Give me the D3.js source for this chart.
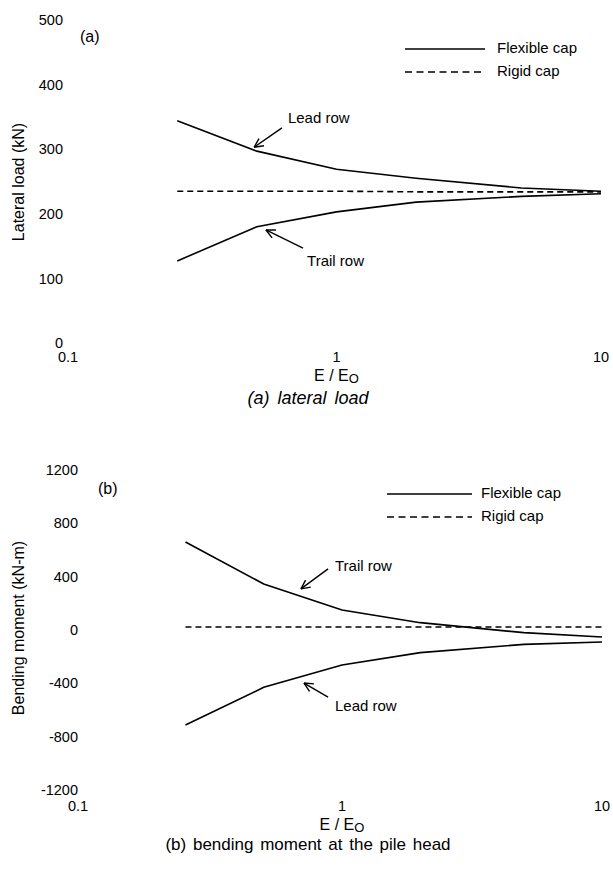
<html>
<head>
<meta charset="utf-8">
<script src="https://cdnjs.cloudflare.com/ajax/libs/d3/7.8.5/d3.min.js"></script>
<style>
  * { margin: 0; padding: 0; }
  body { background: #fff; }
  svg text { font-family: "Liberation Sans", Arial, sans-serif; fill: #000; }
</style>
</head>
<body>
<svg id="viz" width="613" height="880"></svg>
<script>
// E / Eo values where the curves were computed
const ratio = [0.25, 0.5, 1, 2, 5, 10];

// (a) lateral load, kN
const loadLead  = [344, 297, 269, 255, 240, 235];
const loadTrail = [127, 180, 203, 218, 227, 231];
const loadRigid = [235, 235, 235, 234, 234, 234];

// (b) bending moment at pile head, kN-m
const momentTrail = [660, 345, 150, 55, -20, -52];
const momentLead  = [-713, -430, -262, -170, -108, -90];
const momentRigid = [22, 22, 22, 22, 22, 22];

const xTicks = [0.1, 1, 10];
const loadTicks = [0, 100, 200, 300, 400, 500];
const momentTicks = [-1200, -800, -400, 0, 400, 800, 1200];

// annotations: [label, labelE, labelV, fromE, fromV, tipE, tipV]
const loadNotes = [
  ["Lead row", 0.655, 347, 0.622, 333, 0.488, 303],
  ["Trail row", 0.774, 125, 0.747, 147, 0.541, 175]
];
const momentNotes = [
  ["Trail row", 0.94, 473, 0.884, 458, 0.695, 308],
  ["Lead row", 0.94, -578, 0.884, -503, 0.714, -398]
];

const svg = d3.select("#viz");

function panel(opt) {
  const g = svg.append("g");
  const x = d3.scaleLog().domain([0.1, 10]).range(opt.xr);
  const y = d3.scaleLinear().domain(opt.yd).range(opt.yr);

  // y tick labels (no axis line in the original)
  const ya = g.append("g")
    .attr("transform", "translate(" + opt.yLabelX + ",0)")
    .call(d3.axisLeft(y).tickValues(opt.yTicks).tickSize(0).tickPadding(0).tickFormat(d => String(d)));
  ya.select(".domain").remove();
  ya.selectAll("text").style("font-size", "14.5px").attr("font-family", null);

  // x tick labels
  g.selectAll(".xt").data(xTicks).enter().append("text")
    .attr("x", d => x(d) + (d == 0.1 ? -4 : 0))
    .attr("y", opt.xLabelY)
    .attr("text-anchor", "middle")
    .attr("dominant-baseline", "middle")
    .style("font-size", "14.5px")
    .text(d => d);

  // x title E / Eo
  const xt = g.append("text")
    .attr("x", x(1))
    .attr("y", opt.xLabelY + 19)
    .attr("text-anchor", "middle")
    .attr("dominant-baseline", "middle")
    .style("font-size", "16px");
  xt.append("tspan").text("E / E");
  xt.append("tspan").attr("dy", 3).style("font-size", "13px").text("O");

  // y title
  g.append("text")
    .attr("transform", "translate(20," + opt.yTitleY + ") rotate(-90)")
    .attr("text-anchor", "middle")
    .attr("dominant-baseline", "middle")
    .style("font-size", "16px")
    .text(opt.yTitle);

  // panel tag
  g.append("text")
    .attr("x", opt.tag[0]).attr("y", opt.tag[1])
    .attr("dominant-baseline", "middle")
    .style("font-size", "16px")
    .text(opt.tag[2]);

  const line = d3.line().x((d, i) => x(ratio[i])).y(d => y(d));

  opt.flex.forEach(s => {
    g.append("path").attr("d", line(s))
      .attr("fill", "none").attr("stroke", "#000").attr("stroke-width", 1.6);
  });
  g.append("path").attr("d", line(opt.rigid))
    .attr("fill", "none").attr("stroke", "#000").attr("stroke-width", 1.6)
    .attr("stroke-dasharray", "6,4");

  // legend
  const lg = g.append("g");
  lg.append("line").attr("x1", opt.leg[0]).attr("x2", opt.leg[1])
    .attr("y1", opt.leg[3]).attr("y2", opt.leg[3])
    .attr("stroke", "#000").attr("stroke-width", 1.4);
  lg.append("line").attr("x1", opt.leg[0]).attr("x2", opt.leg[1])
    .attr("y1", opt.leg[3] + 23).attr("y2", opt.leg[3] + 23)
    .attr("stroke", "#000").attr("stroke-width", 1.4).attr("stroke-dasharray", "7,4.5");
  lg.append("text").attr("x", opt.leg[2]).attr("y", opt.leg[3])
    .attr("dominant-baseline", "middle").style("font-size", "15px").text("Flexible cap");
  lg.append("text").attr("x", opt.leg[2]).attr("y", opt.leg[3] + 23)
    .attr("dominant-baseline", "middle").style("font-size", "15px").text("Rigid cap");

  // annotations with open arrowheads
  opt.notes.forEach(n => {
    g.append("text").attr("x", x(n[1])).attr("y", y(n[2]))
      .attr("dominant-baseline", "middle").style("font-size", "15px").text(n[0]);
    const x0 = x(n[3]), y0 = y(n[4]), x1 = x(n[5]), y1 = y(n[6]);
    g.append("line").attr("x1", x0).attr("y1", y0).attr("x2", x1).attr("y2", y1)
      .attr("stroke", "#000").attr("stroke-width", 1.4);
    const a = Math.atan2(y0 - y1, x0 - x1), L = 10;
    [-0.45, 0.45].forEach(da => {
      g.append("line").attr("x1", x1).attr("y1", y1)
        .attr("x2", x1 + L * Math.cos(a + da)).attr("y2", y1 + L * Math.sin(a + da))
        .attr("stroke", "#000").attr("stroke-width", 1.4);
    });
  });

  // caption
  g.append("text")
    .attr("x", 308).attr("y", opt.capY)
    .attr("text-anchor", "middle").attr("dominant-baseline", "middle")
    .style("font-size", opt.capSize)
    .style("font-style", opt.capItalic ? "italic" : "normal")
    .style("word-spacing", opt.capSpacing)
    .text(opt.caption);
}

panel({
  xr: [72, 601], yd: [0, 500], yr: [343, 20], yTicks: loadTicks, yLabelX: 63,
  xLabelY: 358, yTitle: "Lateral load (kN)", yTitleY: 182, tag: [80, 38, "(a)"],
  flex: [loadLead, loadTrail], rigid: loadRigid, leg: [405, 485, 497, 49],
  notes: loadNotes, caption: "(a) lateral load", capY: 399, capItalic: true,
  capSize: "18px", capSpacing: "3px"
});

panel({
  xr: [82, 602], yd: [-1200, 1200], yr: [790, 470], yTicks: momentTicks, yLabelX: 78,
  xLabelY: 807, yTitle: "Bending moment (kN-m)", yTitleY: 628, tag: [98, 490, "(b)"],
  flex: [momentTrail, momentLead], rigid: momentRigid, leg: [387, 472, 481, 494],
  notes: momentNotes, caption: "(b) bending moment at the pile head", capY: 846, capItalic: false,
  capSize: "17px", capSpacing: "2px"
});
</script>
</body>
</html>
